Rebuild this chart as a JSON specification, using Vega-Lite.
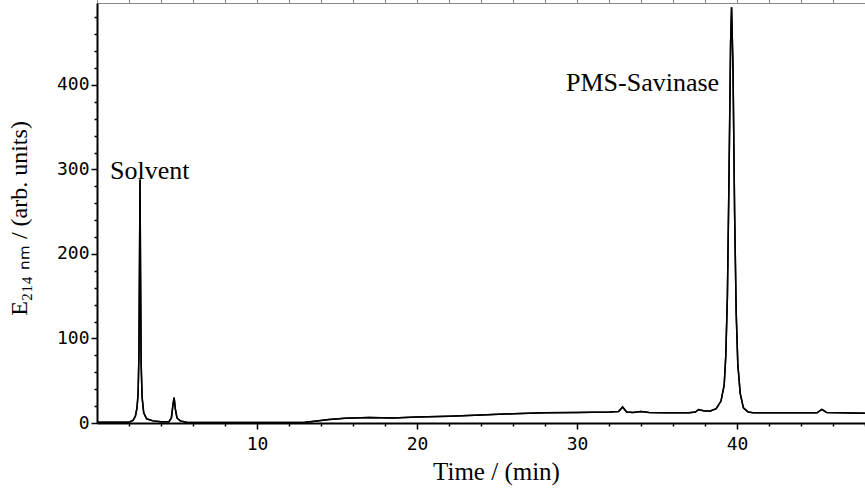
{
  "$schema": "https://vega.github.io/schema/vega-lite/v6.json",
  "width": 768,
  "height": 420,
  "autosize": "none",
  "padding": {"left": 97, "top": 3, "right": 0, "bottom": 73},
  "background": "white",
  "config": {"view": {"stroke": null}},
  "datasets": {
    "trace": [
      {"t": 0.0, "e": 1}, {"t": 1.0, "e": 1}, {"t": 2.0, "e": 1}, {"t": 2.25, "e": 3},
      {"t": 2.4, "e": 8}, {"t": 2.5, "e": 18}, {"t": 2.57, "e": 35}, {"t": 2.62, "e": 80},
      {"t": 2.66, "e": 200}, {"t": 2.69, "e": 288}, {"t": 2.72, "e": 180}, {"t": 2.76, "e": 70},
      {"t": 2.82, "e": 30}, {"t": 2.92, "e": 12}, {"t": 3.1, "e": 5}, {"t": 3.5, "e": 2.5},
      {"t": 4.0, "e": 1.5}, {"t": 4.5, "e": 1.5}, {"t": 4.65, "e": 6}, {"t": 4.75, "e": 22},
      {"t": 4.82, "e": 30}, {"t": 4.9, "e": 16}, {"t": 5.0, "e": 6}, {"t": 5.2, "e": 2.5},
      {"t": 5.6, "e": 1}, {"t": 6.0, "e": 0.5}, {"t": 8.0, "e": 0.5}, {"t": 10.0, "e": 0.5},
      {"t": 12.0, "e": 0.5}, {"t": 13.0, "e": 0.8}, {"t": 13.6, "e": 2}, {"t": 14.5, "e": 4},
      {"t": 15.5, "e": 5.5}, {"t": 17.0, "e": 6.5}, {"t": 18.5, "e": 6}, {"t": 20.0, "e": 7},
      {"t": 22.0, "e": 8}, {"t": 24.0, "e": 9.5}, {"t": 26.0, "e": 11}, {"t": 28.0, "e": 12},
      {"t": 30.0, "e": 12.5}, {"t": 32.0, "e": 13}, {"t": 32.6, "e": 13.5}, {"t": 32.85, "e": 19},
      {"t": 33.1, "e": 13}, {"t": 33.5, "e": 12.5}, {"t": 34.0, "e": 13.5}, {"t": 34.5, "e": 12.5},
      {"t": 35.5, "e": 12}, {"t": 37.0, "e": 12}, {"t": 37.4, "e": 13}, {"t": 37.6, "e": 16},
      {"t": 37.9, "e": 14.5}, {"t": 38.3, "e": 14}, {"t": 38.7, "e": 17}, {"t": 39.0, "e": 26},
      {"t": 39.2, "e": 45}, {"t": 39.3, "e": 80}, {"t": 39.4, "e": 150}, {"t": 39.5, "e": 290},
      {"t": 39.6, "e": 450}, {"t": 39.66, "e": 492}, {"t": 39.75, "e": 420}, {"t": 39.85, "e": 250},
      {"t": 39.95, "e": 130}, {"t": 40.05, "e": 70}, {"t": 40.2, "e": 35}, {"t": 40.4, "e": 18},
      {"t": 40.7, "e": 13}, {"t": 41.0, "e": 12}, {"t": 43.0, "e": 12}, {"t": 45.0, "e": 12},
      {"t": 45.3, "e": 16}, {"t": 45.6, "e": 12.5}, {"t": 46.5, "e": 12}, {"t": 48.0, "e": 11.5}
    ],
    "labels": [
      {"t": 3.3, "e": 298, "text": "Solvent"},
      {"t": 34.1, "e": 402, "text": "PMS-Savinase"}
    ]
  },
  "resolve": {"axis": {"x": "independent", "y": "independent"}},
  "layer": [
    {
      "data": {"name": "trace"},
      "mark": {"type": "line", "color": "black", "strokeWidth": 1.5, "clip": true},
      "encoding": {
        "x": {
          "field": "t", "type": "quantitative",
          "scale": {"domain": [0, 48], "nice": false, "zero": false},
          "axis": {
            "orient": "bottom",
            "values": [2, 4, 6, 8, 12, 14, 16, 18, 22, 24, 26, 28, 32, 34, 36, 38, 42, 44, 46, 48],
            "labels": false,
            "domain": false,
            "grid": false,
            "tickColor": "black",
            "tickWidth": 1.5,
            "tickSize": 3,
            "title": null
          }
        },
        "y": {
          "field": "e", "type": "quantitative",
          "scale": {"domain": [0, 497], "nice": false},
          "axis": {
            "orient": "left",
            "values": [20, 40, 60, 80, 120, 140, 160, 180, 220, 240, 260, 280, 320, 340, 360, 380, 420, 440, 460, 480],
            "labels": false,
            "domain": false,
            "grid": false,
            "tickColor": "black",
            "tickWidth": 1.5,
            "tickSize": 3,
            "title": null
          }
        }
      }
    },
    {
      "data": {"name": "trace"},
      "mark": {"type": "line", "color": "black", "strokeWidth": 1.5, "clip": true},
      "encoding": {
        "x": {
          "field": "t", "type": "quantitative",
          "axis": {
            "orient": "bottom",
            "values": [10, 20, 30, 40],
            "labelFont": "DejaVu Sans Mono",
            "labelFontSize": 18,
            "labelColor": "black",
            "labelPadding": 6,
            "grid": false,
            "domainColor": "black",
            "domainWidth": 2,
            "tickColor": "black",
            "tickWidth": 1.5,
            "tickSize": 6,
            "title": "Time / (min)",
            "titleFont": "Liberation Serif",
            "titleFontSize": 25,
            "titleFontWeight": "normal",
            "titleColor": "black",
            "titleX": 399,
            "titleY": 48,
            "titleBaseline": "middle"
          }
        },
        "y": {
          "field": "e", "type": "quantitative",
          "axis": {
            "orient": "left",
            "values": [0, 100, 200, 300, 400],
            "labelFont": "DejaVu Sans Mono",
            "labelFontSize": 18,
            "labelColor": "black",
            "labelPadding": 2,
            "grid": false,
            "domainColor": "black",
            "domainWidth": 2,
            "tickColor": "black",
            "tickWidth": 1.5,
            "tickSize": 6,
            "title": "E₂₁₄ ₙₘ / (arb. units)",
            "titleFont": "Liberation Serif",
            "titleFontSize": 24,
            "titleFontWeight": "normal",
            "titleColor": "black",
            "titleX": -78,
            "titleY": 215,
            "titleAngle": -90,
            "titleAlign": "center",
            "titleBaseline": "middle"
          }
        }
      }
    },
    {
      "data": {"name": "labels"},
      "mark": {"type": "text", "font": "Liberation Serif", "fontSize": 26, "color": "black", "align": "center", "baseline": "middle"},
      "encoding": {
        "x": {"field": "t", "type": "quantitative"},
        "y": {"field": "e", "type": "quantitative"},
        "text": {"field": "text"}
      }
    }
  ]
}
